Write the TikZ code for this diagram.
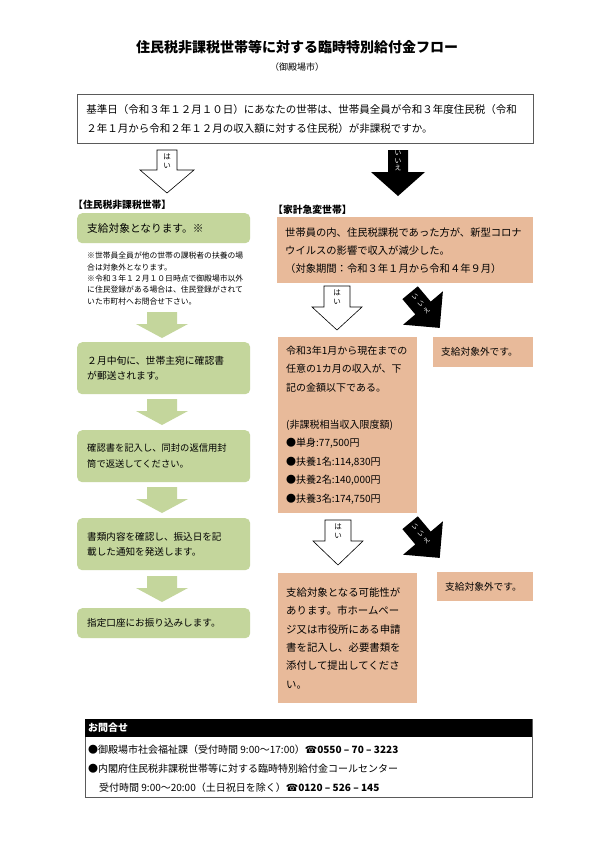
\documentclass[tikz,border=0pt]{standalone}
\usepackage{fontspec}
\setmainfont{Noto Sans CJK JP}
\newfontfamily\symfont{DejaVu Sans}
\definecolor{grn}{RGB}{196,214,156}
\definecolor{org}{RGB}{232,186,154}
\definecolor{frame}{RGB}{90,90,90}
\begin{document}
\begin{tikzpicture}[x=1pt,y=-1pt,
  gbox/.style={fill=grn, rounded corners=5pt, anchor=north west, align=left, inner xsep=10pt, inner ysep=0pt},
  obox/.style={fill=org, anchor=north west, align=left, inner xsep=8pt, inner ysep=0pt},
  warrow/.style={draw=black, line width=0.6pt, fill=white},
  barrow/.style={fill=black},
  garrow/.style={fill=grn},
  vtext/.style={align=center, inner sep=0pt, font=\fontsize{7.5}{8.5}\selectfont},
  ntext/.style={align=center, inner sep=0pt, font=\fontsize{6.8}{7.4}\selectfont},
  dtext/.style={align=center, inner sep=0pt, font=\fontsize{6.5}{9}\selectfont},
  diagarrow/.pic={
    \fill[black] (-5.2,-21.7) -- (7.7,-6.4) -- (19.9,-16.7) -- (16.7,19.9) -- (-19.9,16.7) -- (-7.7,6.4) -- (-20.6,-8.9) -- cycle;
    \node[dtext, text=white, rotate=40] at (-2,-4) {い\\い\\え};
  }
]
\useasboundingbox (0,0) rectangle (595,841);
\fill[white] (0,0) rectangle (595,841);

% title
\node[font=\bfseries\fontsize{14}{14}\selectfont] (title) at (297,47) {住民税非課税世帯等に対する臨時特別給付金フロー};
\node[font=\fontsize{9}{9}\selectfont] (sub) at (297,67) {（御殿場市）};

% question box
\node[draw=frame, line width=0.8pt, anchor=north west, minimum height=49pt, text width=438pt, inner xsep=9pt, inner ysep=0pt, align=left,
  font=\fontsize{10.5}{19}\selectfont] (q) at (77,94)
  {基準日（令和３年１２月１０日）にあなたの世帯は、世帯員全員が令和３年度住民税（令和\\２年１月から令和２年１２月の収入額に対する住民税）が非課税ですか。};

% top arrows
\draw[warrow] (157,150) -- (177,150) -- (177,170) -- (194,170) -- (167,193) -- (140,170) -- (157,170) -- cycle;
\node[vtext] (yes1) at (167,161) {は\\い};
\fill[barrow] (388,150) -- (408,150) -- (408,172) -- (425,172) -- (398,196) -- (371,172) -- (388,172) -- cycle;
\node[ntext, text=white] (no1) at (398,161) {い\\い\\え};

% section labels
\node[anchor=west, inner sep=0pt, font=\bfseries\fontsize{9.8}{9.8}\selectfont] (lab1) at (73,205) {【住民税非課税世帯】};
\node[anchor=west, inner sep=0pt, font=\bfseries\fontsize{9.8}{9.8}\selectfont] (lab2) at (273,210) {【家計急変世帯】};

% left column
\node[gbox, minimum height=30pt, text width=153pt, font=\fontsize{10.7}{10.7}\selectfont] (g1) at (77,213) {支給対象となります。※};
\node[anchor=north west, inner sep=0pt, align=left, font=\fontsize{7.8}{11.3}\selectfont] (note) at (87,252)
  {※世帯員全員が他の世帯の課税者の扶養の場\\合は対象外となります。\\※令和３年１２月１０日時点で御殿場市以外\\に住民登録がある場合は、住民登録がされて\\いた市町村へお問合せ下さい。};

\fill[garrow] (147,312) -- (177,312) -- (177,324) -- (188,324) -- (162,338) -- (136,324) -- (147,324) -- cycle;
\node[gbox, minimum height=52pt, text width=153pt, font=\fontsize{9.8}{15.5}\selectfont] (g2) at (77,342) {２月中旬に、世帯主宛に確認書\\が郵送されます。};
\fill[garrow] (147,399) -- (177,399) -- (177,411) -- (188,411) -- (162,425) -- (136,411) -- (147,411) -- cycle;
\node[gbox, minimum height=52pt, text width=153pt, font=\fontsize{9.3}{15.5}\selectfont] (g3) at (77,430) {確認書を記入し、同封の返信用封\\筒で返送してください。};
\fill[garrow] (147,487) -- (177,487) -- (177,499) -- (188,499) -- (162,513) -- (136,499) -- (147,499) -- cycle;
\node[gbox, minimum height=52pt, text width=153pt, font=\fontsize{9.6}{15.5}\selectfont] (g4) at (77,518) {書類内容を確認し、振込日を記\\載した通知を発送します。};
\fill[garrow] (147,576) -- (177,576) -- (177,588) -- (188,588) -- (162,602) -- (136,588) -- (147,588) -- cycle;
\node[gbox, minimum height=30pt, text width=153pt, font=\fontsize{9.6}{9.6}\selectfont] (g5) at (77,608) {指定口座にお振り込みします。};

% right column
\node[obox, minimum height=66pt, text width=240pt, font=\fontsize{10.3}{18}\selectfont] (o1) at (277,217)
  {世帯員の内、住民税課税であった方が、新型コロナ\\ウイルスの影響で収入が減少した。\\（対象期間：令和３年１月から令和４年９月）};

\draw[warrow] (324,286) -- (350,286) -- (350,307) -- (362,307) -- (337,330) -- (312,307) -- (324,307) -- cycle;
\node[vtext] (yes2) at (337,297) {は\\い};
\pic at (423,308) {diagarrow};

\node[obox, minimum height=176pt, text width=123pt, font=\fontsize{10}{18.5}\selectfont] (o2) at (278,337)
  {令和3年1月から現在までの\\任意の1カ月の収入が、下\\記の金額以下である。\\[18.5pt](非課税相当収入限度額)\\●単身:77,500円\\●扶養1名:114,830円\\●扶養2名:140,000円\\●扶養3名:174,750円};
\node[obox, minimum height=30pt, text width=84pt, inner xsep=8pt, font=\fontsize{9.7}{9.7}\selectfont] (o3) at (433,337) {支給対象外です。};

\draw[warrow] (325,520) -- (351,520) -- (351,541) -- (363,541) -- (338,565) -- (313,541) -- (325,541) -- cycle;
\node[vtext] (yes3) at (338,531) {は\\い};
\pic at (423,538) {diagarrow};

\node[obox, minimum height=130pt, text width=123pt, font=\fontsize{10.4}{18.4}\selectfont] (o4) at (278,573)
  {支給対象となる可能性が\\あります。市ホームペー\\ジ又は市役所にある申請\\書を記入し、必要書類を\\添付して提出してくださ\\い。};
\node[obox, minimum height=29pt, text width=80pt, font=\fontsize{9.7}{9.7}\selectfont] (o5) at (437,572) {支給対象外です。};

% contact box
\node[draw=frame, line width=0.8pt, anchor=north west, minimum width=447pt, minimum height=78pt, inner sep=0pt] (contact) at (85,719) {};
\node[fill=black, text=white, anchor=north west, minimum width=447pt, minimum height=18pt, text width=441pt, inner xsep=3pt, inner ysep=0pt, align=left,
  font=\bfseries\fontsize{10}{10}\selectfont] (head) at (85,719) {お問合せ};
\node[anchor=north west, inner sep=0pt, align=left, font=\fontsize{10}{19}\selectfont] (info) at (88,745)
  {●御殿場市社会福祉課（受付時間 9:00～17:00）{\bfseries{\symfont ☎}0550 – 70 – 3223}\\
   ●内閣府住民税非課税世帯等に対する臨時特別給付金コールセンター\\
   \hspace*{11pt}受付時間 9:00～20:00（土日祝日を除く）{\bfseries{\symfont ☎}0120 – 526 – 145}};
\end{tikzpicture}
\end{document}
